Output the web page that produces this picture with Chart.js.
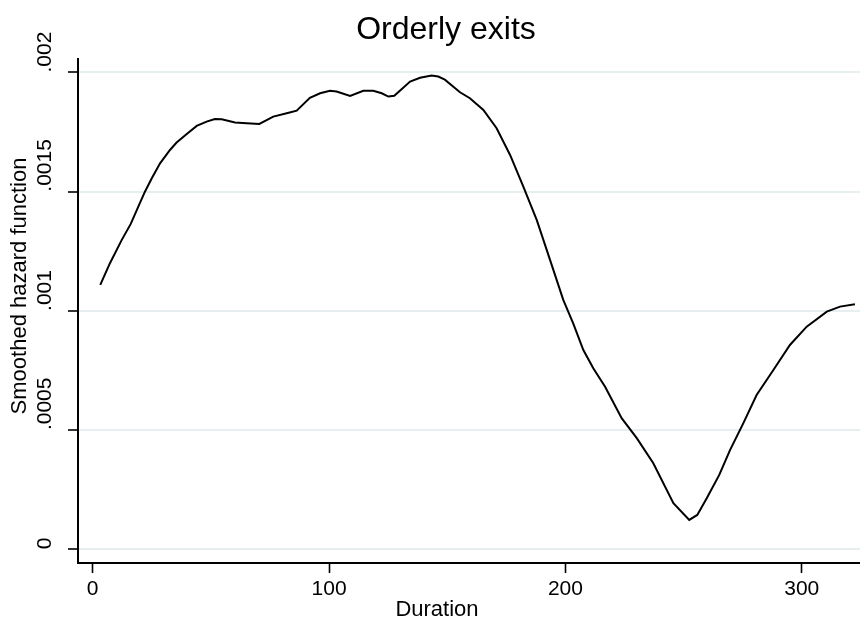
<!DOCTYPE html>
<html>
<head>
<meta charset="utf-8">
<title>Orderly exits</title>
<script src="https://cdn.jsdelivr.net/npm/chart.js@4.4.1/dist/chart.umd.min.js"></script>
<style>
  html, body { margin: 0; padding: 0; background: #ffffff; }
  #wrap { width: 860px; height: 623px; }
</style>
</head>
<body>
<div id="wrap"><canvas id="chart" width="860" height="623"></canvas></div>
<script>
// Smoothed hazard estimate for orderly exits, by duration
const duration = [
  3.2, 7.3, 12.3, 16.1, 19.3, 22.1, 25.0, 28.5, 32.7, 35.5,
  39.8, 44.0, 48.2, 51.7, 54.6, 60.2, 65.2, 70.5, 76.4, 82.1,
  86.3, 91.9, 96.2, 100.4, 103.2, 108.9, 114.5, 118.7, 122.3, 125.1,
  127.6, 134.3, 138.5, 143.4, 146.2, 149.0, 152.6, 155.4, 159.6, 165.3,
  170.9, 176.6, 182.2, 187.9, 193.5, 199.1, 203.3, 207.6, 211.8, 216.8,
  223.8, 230.2, 237.2, 245.7, 252.4, 255.8, 259.8, 265.1, 269.7, 275.3,
  280.9, 288.0, 295.0, 302.1, 310.6, 316.2, 322.5
];
const hazard = [
  0.001109, 0.001200, 0.001298, 0.001365, 0.001437, 0.001500, 0.001556, 0.001619, 0.001675, 0.001706,
  0.001742, 0.001776, 0.001794, 0.001805, 0.001804, 0.001790, 0.001787, 0.001784, 0.001815, 0.001829,
  0.001840, 0.001894, 0.001913, 0.001923, 0.001920, 0.001902, 0.001923, 0.001923, 0.001913, 0.001899,
  0.001902, 0.001962, 0.001978, 0.001987, 0.001983, 0.001970, 0.001940, 0.001917, 0.001892, 0.001843,
  0.001766, 0.001654, 0.001521, 0.001381, 0.001214, 0.001046, 0.000948, 0.000836, 0.000759, 0.000682,
  0.000550, 0.000466, 0.000361, 0.000193, 0.000123, 0.000144, 0.000214, 0.000312, 0.000417, 0.000529,
  0.000647, 0.000752, 0.000857, 0.000934, 0.000997, 0.001018, 0.001028
];
const xTicks = [0, 100, 200, 300];
const yTicks = [0, 0.0005, 0.001, 0.0015, 0.002];
const chartTitle = 'Orderly exits';
const xTitle = 'Duration';
const yTitle = 'Smoothed hazard function';

const FONT = '"Liberation Sans", Arial, Helvetica, sans-serif';

// Stata-style labels: drop the leading zero of decimals
function stataNumber(v) {
  if (v === 0) return '0';
  return String(v).replace(/^0\./, '.');
}

// Graph title, x-axis title and the rotated y-axis title
const titlesPlugin = {
  id: 'stataTitles',
  afterDraw(chart) {
    const ctx = chart.ctx;
    ctx.save();
    ctx.fillStyle = '#000';
    ctx.textAlign = 'center';
    ctx.textBaseline = 'alphabetic';
    ctx.font = '32px ' + FONT;
    ctx.fillText(chartTitle, 446, 39);
    ctx.font = '22px ' + FONT;
    ctx.fillText(xTitle, 437, 616);
    ctx.translate(20, 286);
    ctx.rotate(-Math.PI / 2);
    ctx.textBaseline = 'middle';
    ctx.fillText(yTitle, 0, 0);
    ctx.restore();
  }
};

new Chart(document.getElementById('chart'), {
  type: 'line',
  data: {
    datasets: [{
      data: duration.map((d, i) => ({ x: d, y: hazard[i] })),
      borderColor: '#000000',
      borderWidth: 2,
      pointRadius: 0,
      tension: 0,
      fill: false
    }]
  },
  options: {
    responsive: false,
    devicePixelRatio: 1,
    animation: false,
    layout: { padding: { top: 59, right: 0, bottom: 0, left: 35 } },
    plugins: {
      legend: { display: false },
      tooltip: { enabled: false },
      title: { display: false }
    },
    scales: {
      x: {
        type: 'linear',
        min: -6.22,
        max: 324.65,
        afterBuildTicks(scale) { scale.ticks = xTicks.map(v => ({ value: v })); },
        afterFit(scale) { scale.height = 60; },
        ticks: {
          color: '#000',
          font: { family: FONT, size: 21 },
          padding: 4,
          maxRotation: 0,
          callback: v => String(v)
        },
        grid: {
          drawOnChartArea: false,
          drawTicks: true,
          tickLength: 10,
          tickColor: '#000',
          tickWidth: 1.6
        },
        border: { display: true, color: '#000', width: 2 }
      },
      y: {
        type: 'linear',
        min: -0.0000575,
        max: 0.0020566,
        afterBuildTicks(scale) { scale.ticks = yTicks.map(v => ({ value: v })); },
        afterFit(scale) { scale.width = 43; },
        ticks: {
          color: '#000',
          font: { family: FONT, size: 21 },
          padding: 0,
          minRotation: 90,
          maxRotation: 90,
          crossAlign: 'far',
          align: 'start',
          callback: v => stataNumber(v)
        },
        grid: {
          color: '#e6eef0',
          lineWidth: 2,
          drawTicks: true,
          tickLength: 10,
          tickColor: '#000',
          tickWidth: 1.6
        },
        border: { display: true, color: '#000', width: 2 }
      }
    }
  },
  plugins: [titlesPlugin]
});
</script>
</body>
</html>
